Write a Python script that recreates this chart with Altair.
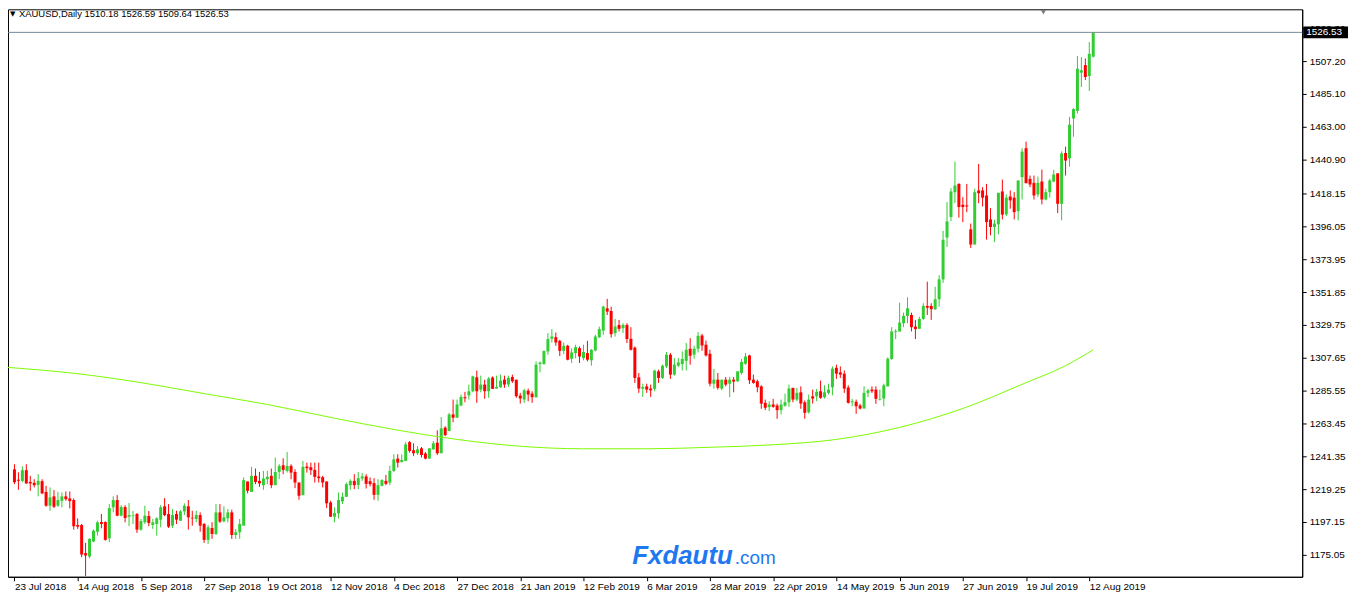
import altair as alt
import pandas as pd

# ---------------- data ----------------
date_labels = ['23 Jul 2018', '14 Aug 2018', '5 Sep 2018', '27 Sep 2018', '19 Oct 2018',
               '12 Nov 2018', '4 Dec 2018', '27 Dec 2018', '21 Jan 2019', '12 Feb 2019',
               '6 Mar 2019', '28 Mar 2019', '22 Apr 2019', '14 May 2019', '5 Jun 2019',
               '27 Jun 2019', '19 Jul 2019', '12 Aug 2019']
date_label_bars = list(range(0, 273, 16))

opens = [
    1232.6, 1225.6, 1224.8, 1232.0, 1224.1, 1223.5, 1222.1, 1224.6, 1217.4, 1208.1,
    1214.4, 1208.1, 1211.4, 1214.4, 1213.0, 1211.9, 1195.1, 1195.1, 1176.2, 1173.9,
    1184.0, 1190.6, 1197.1, 1197.1, 1186.2, 1207.0, 1211.9, 1201.4, 1207.2, 1200.7,
    1201.4, 1202.5, 1192.0, 1197.0, 1201.2, 1195.1, 1195.8, 1198.7, 1207.7, 1202.5,
    1194.7, 1202.5, 1198.0, 1204.3, 1207.7, 1200.0, 1199.2, 1201.8, 1195.8, 1185.1,
    1193.1, 1189.1, 1203.6, 1197.6, 1199.6, 1203.6, 1188.4, 1190.3, 1194.7, 1224.4,
    1217.4, 1228.2, 1224.8, 1221.9, 1225.9, 1228.2, 1221.9, 1230.8, 1235.3, 1231.5,
    1234.9, 1230.8, 1223.7, 1215.2, 1234.4, 1234.0, 1232.2, 1227.8, 1227.3, 1224.4,
    1210.3, 1200.7, 1203.0, 1211.0, 1214.1, 1221.9, 1224.8, 1222.1, 1226.4, 1227.8,
    1224.6, 1223.3, 1215.4, 1221.5, 1224.8, 1223.7, 1231.5, 1239.8, 1237.5, 1238.2,
    1250.9, 1245.4, 1243.4, 1246.7, 1243.2, 1239.8, 1246.0, 1250.5, 1243.4, 1260.6,
    1258.3, 1269.5, 1267.3, 1275.5, 1281.1, 1282.4, 1285.1, 1294.5, 1286.2, 1289.6,
    1285.1, 1294.3, 1286.9, 1287.8, 1292.9, 1289.6, 1294.7, 1292.9, 1282.2, 1279.5,
    1285.5, 1283.5, 1281.1, 1303.4, 1303.4, 1311.9, 1320.4, 1321.5, 1319.0, 1312.3,
    1315.7, 1307.0, 1310.8, 1314.1, 1307.4, 1310.8, 1305.9, 1312.5, 1321.5, 1325.9,
    1340.9, 1339.1, 1324.2, 1329.7, 1327.5, 1329.7, 1320.4, 1314.5, 1294.5, 1286.9,
    1288.4, 1286.9, 1286.7, 1298.5, 1294.1, 1301.8, 1309.7, 1296.3, 1302.3, 1303.4,
    1305.6, 1313.7, 1309.7, 1313.7, 1322.6, 1316.4, 1310.3, 1290.2, 1292.9, 1286.9,
    1292.9, 1290.2, 1292.9, 1291.8, 1297.4, 1303.6, 1309.2, 1292.9, 1291.8, 1288.4,
    1277.3, 1274.4, 1276.2, 1275.5, 1272.4, 1275.5, 1277.7, 1287.4, 1279.5, 1284.4,
    1277.7, 1271.0, 1281.7, 1281.7, 1285.1, 1281.1, 1284.0, 1287.8, 1300.9, 1297.8,
    1296.9, 1287.6, 1277.7, 1278.0, 1275.5, 1273.5, 1284.0, 1286.2, 1286.2, 1279.5,
    1280.2, 1288.4, 1306.8, 1325.1, 1325.3, 1330.9, 1335.8, 1336.4, 1328.6, 1327.1,
    1333.8, 1342.5, 1342.5, 1340.3, 1347.0, 1360.4, 1388.5, 1402.3, 1419.0, 1424.6,
    1410.6, 1410.1, 1394.0, 1383.8, 1420.2, 1420.2, 1416.8, 1400.7, 1395.6, 1397.4,
    1419.5, 1404.1, 1416.1, 1415.3, 1406.3, 1429.1, 1448.5, 1428.0, 1425.3, 1417.5,
    1426.2, 1414.1, 1419.0, 1426.2, 1431.7, 1411.2, 1445.4, 1441.8, 1468.6, 1473.7,
    1499.4, 1504.5, 1497.2, 1510.18,
]

highs = [
    1236.0, 1230.6, 1234.6, 1236.0, 1228.2, 1225.9, 1229.3, 1225.9, 1221.5, 1220.4,
    1218.6, 1217.4, 1217.0, 1217.7, 1217.7, 1213.0, 1199.6, 1195.8, 1183.1, 1186.2,
    1192.0, 1198.0, 1202.5, 1197.6, 1209.2, 1214.4, 1215.2, 1208.5, 1208.5, 1209.9,
    1204.5, 1203.2, 1199.2, 1208.1, 1204.5, 1199.2, 1200.3, 1208.5, 1213.2, 1209.2,
    1205.9, 1204.7, 1205.2, 1209.7, 1211.9, 1204.7, 1204.7, 1203.6, 1196.5, 1195.1,
    1197.0, 1209.2, 1209.2, 1207.7, 1205.9, 1205.4, 1192.5, 1199.2, 1227.1, 1224.4,
    1234.2, 1233.1, 1230.8, 1231.5, 1231.5, 1233.1, 1240.5, 1236.0, 1240.0, 1244.2,
    1236.0, 1232.6, 1223.7, 1238.2, 1237.1, 1237.1, 1237.1, 1237.1, 1228.2, 1224.4,
    1211.4, 1207.0, 1217.0, 1217.0, 1223.7, 1225.9, 1229.3, 1230.8, 1230.0, 1229.3,
    1227.1, 1226.6, 1225.9, 1225.9, 1228.8, 1234.9, 1242.7, 1242.7, 1242.7, 1250.9,
    1251.6, 1250.1, 1248.2, 1247.6, 1244.2, 1246.7, 1251.6, 1258.8, 1267.7, 1261.6,
    1270.6, 1279.5, 1279.5, 1282.9, 1284.7, 1289.6, 1295.6, 1299.0, 1295.6, 1292.9,
    1294.7, 1295.1, 1295.6, 1296.3, 1295.6, 1295.6, 1296.3, 1292.9, 1284.0, 1286.7,
    1286.9, 1285.1, 1305.2, 1305.2, 1312.3, 1324.2, 1326.9, 1324.6, 1319.7, 1317.9,
    1316.4, 1314.1, 1316.4, 1315.2, 1316.4, 1319.0, 1313.5, 1323.0, 1328.6, 1342.7,
    1347.2, 1342.0, 1333.8, 1333.1, 1330.9, 1330.9, 1328.2, 1315.2, 1297.4, 1290.2,
    1290.2, 1289.6, 1299.6, 1299.6, 1303.0, 1311.5, 1310.8, 1307.4, 1307.4, 1311.9,
    1317.5, 1320.8, 1315.7, 1324.9, 1323.7, 1319.2, 1313.0, 1300.1, 1297.4, 1292.9,
    1294.7, 1294.7, 1294.7, 1298.5, 1306.8, 1310.8, 1309.7, 1296.3, 1292.9, 1289.1,
    1279.5, 1278.4, 1280.0, 1276.8, 1279.5, 1283.5, 1289.6, 1287.4, 1287.4, 1288.4,
    1278.9, 1282.9, 1286.2, 1286.7, 1292.3, 1289.1, 1290.2, 1301.8, 1303.0, 1301.8,
    1299.1, 1289.1, 1280.0, 1279.5, 1276.6, 1288.4, 1286.7, 1288.4, 1288.4, 1286.2,
    1290.2, 1307.9, 1328.2, 1326.9, 1344.7, 1338.0, 1348.3, 1338.0, 1333.1, 1335.3,
    1344.3, 1358.8, 1344.3, 1355.4, 1363.2, 1393.0, 1412.3, 1421.7, 1439.6, 1425.0,
    1415.7, 1424.6, 1397.9, 1421.3, 1438.0, 1422.4, 1424.6, 1408.3, 1400.5, 1418.6,
    1427.5, 1417.5, 1420.2, 1419.0, 1426.9, 1448.5, 1453.0, 1430.2, 1430.2, 1429.5,
    1434.2, 1421.3, 1428.0, 1434.0, 1431.7, 1446.5, 1449.6, 1469.7, 1475.5, 1510.6,
    1509.9, 1509.0, 1520.1, 1526.59,
]

lows = [
    1222.6, 1218.8, 1223.9, 1222.8, 1218.1, 1220.4, 1214.4, 1215.9, 1207.4, 1204.7,
    1206.5, 1207.4, 1207.0, 1211.4, 1206.3, 1192.0, 1192.5, 1173.5, 1160.8, 1172.8,
    1183.6, 1188.0, 1192.9, 1184.6, 1183.6, 1203.6, 1201.0, 1200.9, 1196.9, 1194.3,
    1195.8, 1189.8, 1191.3, 1195.8, 1194.3, 1192.5, 1188.0, 1193.6, 1201.0, 1193.1,
    1193.1, 1195.8, 1198.0, 1201.8, 1192.0, 1194.7, 1196.9, 1190.6, 1183.1, 1182.4,
    1185.8, 1188.4, 1196.5, 1196.9, 1196.9, 1185.8, 1185.8, 1185.8, 1194.7, 1216.4,
    1217.4, 1222.6, 1220.8, 1218.8, 1222.6, 1219.9, 1221.9, 1225.9, 1229.3, 1230.4,
    1225.9, 1219.9, 1212.1, 1215.2, 1230.4, 1228.8, 1223.7, 1223.7, 1220.4, 1206.5,
    1200.7, 1197.0, 1199.6, 1209.2, 1214.1, 1218.8, 1219.2, 1219.2, 1224.8, 1219.7,
    1221.1, 1212.1, 1211.4, 1221.1, 1221.9, 1221.9, 1230.8, 1233.8, 1237.1, 1238.2,
    1243.8, 1241.6, 1242.2, 1240.5, 1239.3, 1239.8, 1246.0, 1242.2, 1243.4, 1254.9,
    1258.3, 1264.3, 1267.3, 1275.0, 1277.7, 1279.5, 1284.4, 1277.3, 1284.4, 1280.0,
    1280.7, 1286.7, 1286.9, 1287.4, 1287.4, 1288.0, 1290.7, 1280.7, 1276.8, 1277.3,
    1278.4, 1277.3, 1280.7, 1297.8, 1303.0, 1309.7, 1317.9, 1315.7, 1308.8, 1310.1,
    1305.9, 1304.1, 1307.4, 1304.1, 1305.9, 1305.2, 1302.3, 1311.9, 1320.8, 1323.0,
    1336.4, 1321.2, 1321.9, 1325.3, 1324.2, 1317.5, 1312.5, 1290.7, 1284.0, 1281.3,
    1284.0, 1281.3, 1285.1, 1290.7, 1293.4, 1300.7, 1293.4, 1295.6, 1301.4, 1299.1,
    1299.1, 1303.0, 1307.0, 1311.2, 1312.3, 1308.5, 1288.4, 1286.9, 1286.2, 1285.7,
    1288.4, 1281.1, 1284.4, 1291.4, 1296.3, 1302.9, 1290.0, 1290.2, 1284.4, 1273.3,
    1272.4, 1271.7, 1274.0, 1266.6, 1269.5, 1274.6, 1274.6, 1277.7, 1278.4, 1273.3,
    1266.6, 1270.1, 1276.8, 1278.4, 1280.0, 1280.2, 1282.9, 1282.4, 1293.4, 1294.1,
    1284.0, 1276.8, 1275.0, 1269.9, 1272.8, 1273.5, 1281.1, 1284.0, 1276.6, 1278.9,
    1275.0, 1288.4, 1306.3, 1320.2, 1325.3, 1328.2, 1330.9, 1325.3, 1320.2, 1327.1,
    1333.1, 1336.4, 1333.1, 1339.8, 1342.0, 1358.0, 1382.2, 1399.6, 1411.6, 1401.9,
    1398.9, 1405.6, 1381.5, 1383.8, 1411.6, 1409.4, 1387.1, 1390.0, 1385.5, 1390.7,
    1400.7, 1402.9, 1407.9, 1400.7, 1400.1, 1414.1, 1425.1, 1422.4, 1414.1, 1415.7,
    1410.8, 1413.5, 1415.3, 1425.7, 1405.0, 1400.1, 1430.2, 1436.2, 1456.3, 1471.9,
    1489.8, 1494.5, 1487.1, 1509.64,
]

closes = [
    1223.9, 1224.9, 1232.0, 1223.1, 1223.1, 1221.9, 1224.8, 1216.4, 1208.1, 1213.7,
    1207.4, 1211.9, 1214.4, 1212.5, 1211.2, 1194.3, 1194.0, 1175.3, 1174.6, 1185.8,
    1191.3, 1196.9, 1195.8, 1185.1, 1206.5, 1211.9, 1201.4, 1207.2, 1199.8, 1201.8,
    1201.8, 1192.0, 1197.8, 1201.4, 1196.5, 1196.9, 1199.6, 1207.0, 1201.8, 1194.0,
    1201.8, 1198.7, 1204.3, 1208.1, 1200.3, 1199.6, 1201.8, 1194.7, 1185.1, 1193.6,
    1189.1, 1203.6, 1197.4, 1200.3, 1203.6, 1188.4, 1190.3, 1195.8, 1225.3, 1218.1,
    1228.2, 1224.1, 1223.1, 1226.4, 1227.5, 1221.9, 1230.8, 1234.9, 1232.2, 1234.9,
    1230.4, 1223.7, 1214.8, 1234.2, 1233.3, 1232.0, 1227.5, 1226.6, 1223.7, 1209.7,
    1200.7, 1203.2, 1211.9, 1214.1, 1222.6, 1224.8, 1221.9, 1226.6, 1227.8, 1222.8,
    1222.6, 1215.4, 1221.9, 1225.3, 1222.8, 1231.5, 1239.3, 1237.1, 1238.9, 1249.4,
    1244.9, 1243.4, 1246.0, 1242.2, 1239.8, 1246.7, 1250.1, 1243.4, 1260.1, 1255.6,
    1269.5, 1267.3, 1276.2, 1281.3, 1280.4, 1285.1, 1295.1, 1285.1, 1289.6, 1285.1,
    1293.6, 1286.7, 1288.0, 1292.3, 1289.6, 1294.1, 1291.8, 1281.7, 1280.2, 1285.7,
    1282.9, 1281.1, 1303.0, 1304.3, 1312.3, 1320.2, 1321.9, 1317.9, 1312.3, 1315.7,
    1306.3, 1311.2, 1314.8, 1308.5, 1311.5, 1306.3, 1313.0, 1321.9, 1326.9, 1342.0,
    1338.7, 1323.5, 1328.6, 1327.1, 1329.7, 1320.2, 1313.0, 1294.1, 1286.9, 1288.0,
    1286.2, 1285.7, 1299.0, 1294.1, 1302.3, 1309.7, 1296.3, 1303.0, 1304.5, 1306.8,
    1313.0, 1309.0, 1313.7, 1322.4, 1315.9, 1309.2, 1290.2, 1292.9, 1287.4, 1292.9,
    1289.6, 1292.9, 1291.6, 1298.5, 1304.8, 1308.5, 1292.5, 1290.7, 1287.8, 1276.8,
    1274.0, 1276.2, 1274.6, 1272.4, 1276.2, 1277.7, 1286.9, 1279.5, 1284.0, 1276.8,
    1270.6, 1279.5, 1280.2, 1284.7, 1280.7, 1284.4, 1286.2, 1300.3, 1296.9, 1296.3,
    1286.9, 1277.3, 1278.4, 1275.0, 1273.5, 1284.0, 1285.7, 1285.1, 1280.0, 1280.0,
    1289.1, 1307.0, 1325.3, 1325.7, 1331.3, 1335.8, 1340.9, 1328.2, 1326.9, 1333.8,
    1342.5, 1341.3, 1340.3, 1347.0, 1360.4, 1387.0, 1399.4, 1419.5, 1423.5, 1409.0,
    1409.0, 1409.4, 1383.8, 1419.0, 1418.3, 1415.3, 1398.9, 1395.6, 1397.9, 1418.6,
    1403.9, 1415.3, 1413.5, 1405.6, 1426.9, 1446.3, 1425.1, 1424.2, 1416.8, 1425.3,
    1414.1, 1419.0, 1426.9, 1430.9, 1411.2, 1445.1, 1440.3, 1464.4, 1474.9, 1502.1,
    1501.0, 1496.5, 1512.1, 1526.53,
]

# 200-day moving average, read at sample bars (first sample is the left edge of the chart)
ma_bars = [-2, 16, 32, 48, 64, 80, 96, 112, 128, 144, 160, 176, 192, 208, 224, 240, 256, 266, 273]
ma_values = [1301.2, 1296.9, 1290.9, 1283.5, 1276.2, 1267.5, 1259.4, 1252.7, 1248.1, 1246.4,
             1246.4, 1247.4, 1249.1, 1252.7, 1260.8, 1273.5, 1290.9, 1302.3, 1313.0]

y_tick_values = [1152.95, 1175.05, 1197.15, 1219.25, 1241.35, 1263.45, 1285.55, 1307.65,
                 1329.75, 1351.85, 1373.95, 1396.05, 1418.15, 1440.90, 1463.00, 1485.10,
                 1507.20, 1529.30]

last_price = [1526.53]
last_price_text = ["1526.53"]
header_text = ["XAUUSD,Daily  1510.18 1526.59 1509.64 1526.53"]

# ---------------- tables ----------------
n = len(closes)
df = pd.DataFrame({"i": list(range(n)), "open": opens, "high": highs,
                   "low": lows, "close": closes})
df["dir"] = ["up" if c >= o else "down" for o, c in zip(opens, closes)]
ma_df = pd.DataFrame({"i": ma_bars, "ma": ma_values})
price_df = pd.DataFrame({"p": last_price, "label": last_price_text})
one = pd.DataFrame({"k": [0]})

GREEN = "#32CD32"
RED = "#FF0000"
FONT = "Liberation Sans"

W, H = 1300, 570
xscale = alt.Scale(domain=[-0.375, 324.625], nice=False, zero=False)
yscale = alt.Scale(domain=[1160.3, 1542.04], nice=False, zero=False)
color = alt.Color("dir:N", scale=alt.Scale(domain=["up", "down"], range=[GREEN, RED]), legend=None)

label_expr = "[" + ",".join("'%s'" % d for d in date_labels) + "][round(datum.value/16)]"

xaxis = alt.Axis(values=date_label_bars, labelExpr=label_expr, orient="bottom", grid=False,
                 tickSize=4, labelAlign="left", labelBaseline="top", labelPadding=1,
                 labelOverlap=False, labelFlush=False, title=None)
yaxis = alt.Axis(values=y_tick_values, format=".2f", orient="right", grid=False,
                 tickSize=4, labelPadding=3, labelOverlap=False, labelFlush=False, title=None)

X = alt.X("i:Q", scale=xscale, axis=xaxis)

price_line = alt.Chart(price_df).mark_rule(color="#778899", strokeWidth=1).encode(
    y=alt.Y("p:Q", scale=yscale, axis=yaxis))

ma_line = alt.Chart(ma_df).mark_line(color="#7CFC00", strokeWidth=1, interpolate="monotone",
                                     clip=True).encode(
    x=X,
    y=alt.Y("ma:Q", scale=yscale, axis=yaxis))

wicks = alt.Chart(df).mark_rule(strokeWidth=1).encode(
    x=X,
    y=alt.Y("low:Q", scale=yscale, axis=yaxis),
    y2="high:Q",
    color=color)

bodies = alt.Chart(df).mark_bar(size=3).encode(
    x=X,
    y=alt.Y("open:Q", scale=yscale, axis=yaxis),
    y2="close:Q",
    color=color)

box = alt.Chart(price_df).mark_rect(color="black", yOffset=-6, y2Offset=6).encode(
    x=alt.value(1301), x2=alt.value(1346),
    y=alt.Y("p:Q", scale=yscale, axis=yaxis), y2="p:Q")

box_text = alt.Chart(price_df).mark_text(color="white", align="left", baseline="middle",
                                         font=FONT, fontSize=10).encode(
    x=alt.value(1304), y=alt.Y("p:Q", scale=yscale, axis=yaxis), text="label:N")

header_df = pd.DataFrame({"t": header_text})
header = alt.Chart(header_df).mark_text(align="left", baseline="middle", font=FONT,
                                        fontSize=9.5, color="black").encode(
    x=alt.value(11), y=alt.value(5), text="t:N")
header_tri = alt.Chart(pd.DataFrame({"t": ["\u25bc"]})).mark_text(
    align="left", baseline="middle", font="DejaVu Sans", fontSize=7, color="black").encode(
    x=alt.value(2), y=alt.value(5), text="t:N")

shift_marker = alt.Chart(one).mark_point(shape="triangle-down", filled=True, color="#808080",
                                         size=28, opacity=1).encode(
    x=alt.value(1040), y=alt.value(3))

wm1 = alt.Chart(pd.DataFrame({"t": ["Fxdautu"]})).mark_text(
    align="left", baseline="alphabetic", font=FONT, fontSize=26, fontWeight="bold",
    fontStyle="italic", color="#1E78F0").encode(x=alt.value(627), y=alt.value(557), text="t:N")
wm2 = alt.Chart(pd.DataFrame({"t": [".com"]})).mark_text(
    align="left", baseline="alphabetic", font=FONT, fontSize=19,
    color="#1E78F0").encode(x=alt.value(730), y=alt.value(557), text="t:N")

chart = alt.layer(
    wicks, bodies, price_line, ma_line, box, box_text, header_tri, header,
    shift_marker, wm1, wm2
).properties(
    width=W, height=H,
    autosize=alt.AutoSizeParams(type="none"),
    padding={"left": 0, "top": 0, "right": 48, "bottom": 18},
    background="white",
).configure_view(
    stroke="black", strokeWidth=1
).configure_axis(
    labelFont=FONT, labelFontSize=10, labelColor="black",
    tickColor="black", domainColor="black", tickWidth=1, domainWidth=1,
)

chart.save("out.html", embed_options={"renderer": "svg", "actions": False})
